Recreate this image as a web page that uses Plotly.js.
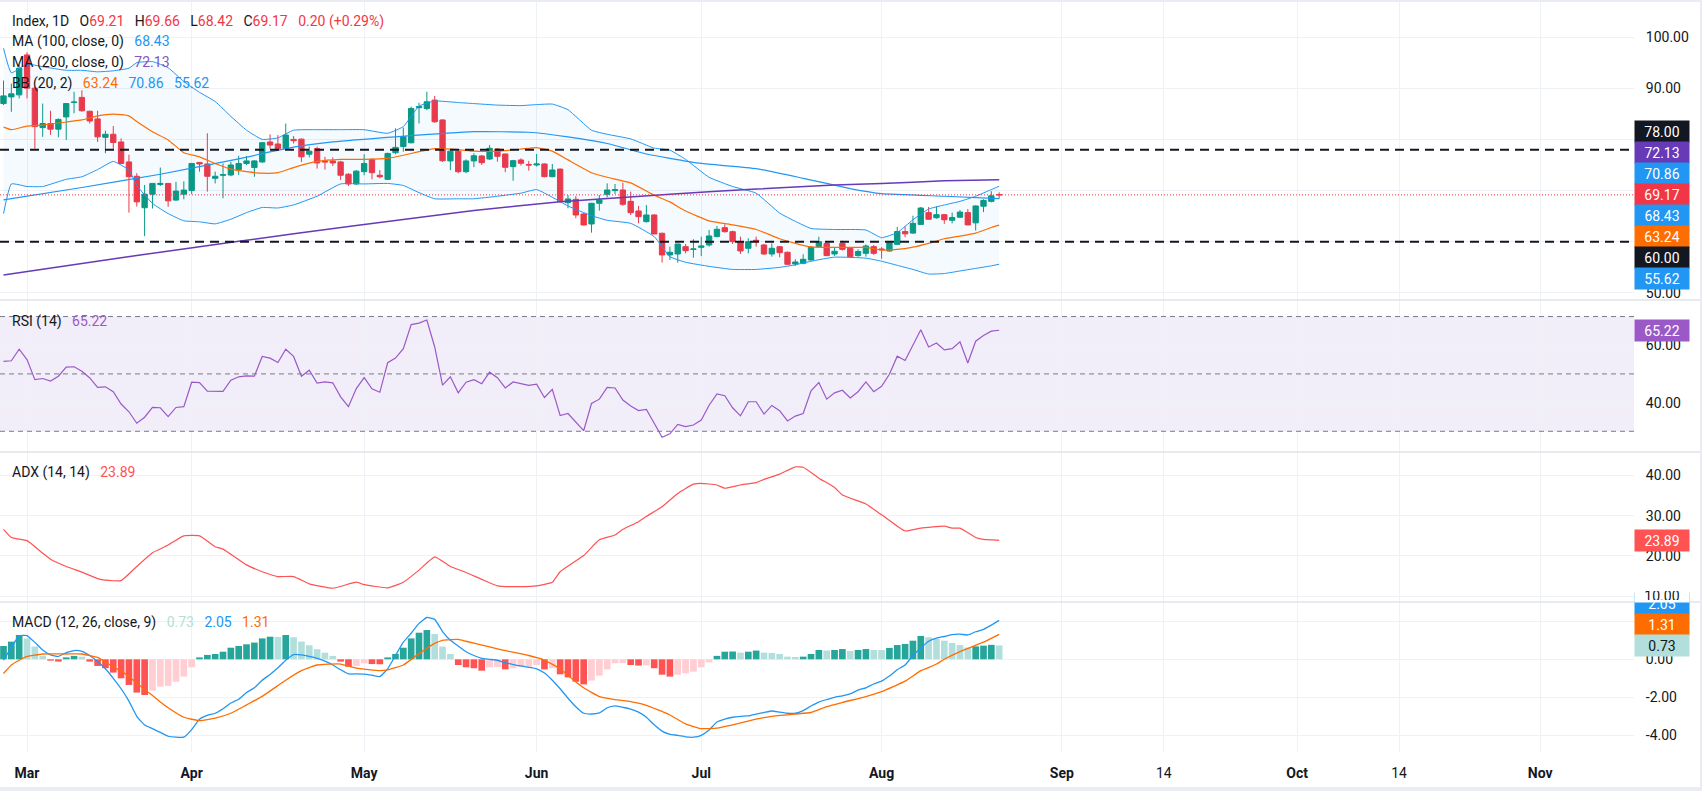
<!DOCTYPE html>
<html>
<head>
<meta charset="utf-8">
<script src="https://cdn.plot.ly/plotly-3.0.1.min.js"></script>
<style>
  html, body { margin: 0; padding: 0; background: #ffffff; }
  #chart { width: 1702px; height: 791px; }
</style>
</head>
<body>
<div id="chart"></div>
<script>
// daily bars (bar 0 = Feb 26, last bar = Aug 22)
var open = [87.0,88.3,88.7,96.5,90.0,82.3,83.1,82.0,84.4,87.2,
  88.2,85.5,84.0,80.4,81.0,79.5,75.6,72.8,66.65,69.3,
  71.2,71.4,68.15,69.3,70.0,75.5,75.2,72.4,73.0,73.05,
  74.1,75.3,74.5,75.6,79.5,79.1,78.2,80.0,80.05,77.1,
  78.2,75.8,75.8,75.6,73.2,71.3,73.7,76.1,73.0,72.2,
  77.4,78.6,79.35,86.2,86.05,87.68,83.8,75.8,77.7,73.7,
  75.8,76.76,76.17,78.13,77.15,74.68,75.98,75.1,75.0,75.2,
  72.72,74.2,67.65,68.3,65.43,63.48,67.52,69.27,70.0,70.12,
  67.9,66.02,63.94,65.24,61.66,57.43,57.62,59.05,58.5,58.92,
  59.38,61.01,62.76,61.98,60.03,58.73,60.3,59.38,57.62,59.05,
  57.95,55.67,55.8,56.45,59.05,59.7,57.62,59.7,58.73,57.3,
  57.75,59.05,58.6,58.2,59.5,62.0,61.7,63.4,65.7,64.7,
  65.3,64.2,64.8,65.7,63.7,66.95,67.9,69.21];
var high = [91.5,90.9,94.5,97.0,90.3,87.0,85.6,84.1,87.1,89.3,
  89.6,85.6,85.6,81.7,82.6,80.2,77.0,73.4,71.1,71.4,
  74.5,71.5,71.7,71.8,75.4,75.6,81.2,73.7,75.3,75.6,
  76.8,76.75,75.96,79.5,81.0,80.85,83.1,80.65,80.2,78.6,
  78.6,76.6,76.5,75.8,73.4,74.0,77.1,76.3,74.0,77.4,
  82.15,82.3,86.4,87.16,89.3,88.5,83.9,77.9,77.9,76.1,
  77.3,76.96,78.91,78.3,77.2,76.0,76.3,75.8,77.15,75.3,
  75.2,74.3,69.14,68.95,65.6,67.6,69.14,71.42,71.29,71.55,
  69.79,67.0,67.19,65.4,61.79,59.05,59.6,59.57,60.49,61.01,
  62.31,63.09,63.41,62.18,61.01,60.68,61.01,59.57,59.7,59.18,
  58.1,56.58,57.56,59.18,61.01,60.03,58.92,60.22,58.86,58.53,
  59.5,59.38,58.95,59.9,62.9,63.0,65.1,66.8,66.8,66.9,
  65.4,65.7,66.2,66.4,67.1,68.3,69.9,69.66];
var low = [86.7,85.4,88.0,88.0,78.2,80.5,80.9,80.4,79.9,85.1,
  85.4,83.1,79.5,77.3,78.2,75.2,65.7,66.9,61.1,66.5,
  70.9,66.85,68.0,68.3,69.3,73.7,69.8,71.4,68.5,72.8,
  73.05,75.0,72.7,75.4,78.2,78.1,78.0,79.2,75.6,76.5,
  74.3,74.1,74.8,72.1,70.9,71.1,73.0,72.2,72.4,72.06,
  77.1,77.6,79.2,83.1,85.7,83.25,75.6,74.0,73.4,73.4,
  74.6,75.0,75.98,75.65,73.6,71.94,74.9,73.9,74.7,72.6,
  72.6,67.7,66.54,64.59,63.2,61.79,66.08,68.69,69.34,67.0,
  65.24,63.61,63.74,61.5,55.93,56.45,55.93,57.75,56.9,57.23,
  59.05,60.88,61.79,59.57,57.62,57.75,59.05,57.43,57.1,56.97,
  55.54,55.28,55.6,56.32,58.92,57.23,57.23,58.27,56.9,57.1,
  57.1,57.43,56.7,58.1,59.4,60.9,61.55,63.3,64.3,64.5,
  63.5,63.6,64.7,63.25,62.2,65.8,67.7,68.42];
var close = [88.5,88.9,93.9,90.0,82.5,83.1,82.0,83.9,87.0,87.3,
  85.6,83.6,80.5,81.0,79.4,75.3,72.7,67.8,69.3,71.4,
  71.4,68.0,69.9,70.1,75.3,75.2,72.8,72.8,73.1,75.0,
  75.3,75.8,75.8,79.35,78.9,78.2,80.85,79.75,76.6,77.7,
  75.4,75.6,75.4,73.0,71.3,73.8,75.3,73.5,72.7,77.26,
  78.44,80.5,86.05,86.4,87.35,83.45,75.83,77.7,73.7,75.8,
  76.8,75.46,78.26,76.7,74.55,75.85,75.33,75.0,75.2,72.72,
  74.03,67.84,68.36,65.24,63.28,67.52,68.17,70.12,70.2,67.32,
  65.69,64.91,65.24,61.53,57.43,57.95,59.57,58.27,58.6,59.18,
  61.14,62.44,61.98,60.03,58.21,60.03,60.1,57.62,58.73,57.88,
  55.6,56.06,56.58,58.92,60.03,57.3,58.14,58.53,57.1,58.1,
  59.18,57.75,58.45,59.8,62.0,61.55,63.6,66.6,64.4,65.3,
  64.3,64.75,65.8,63.3,67.0,68.06,68.97,69.17];

// Bollinger bands (20, 2), read at these bars
var bbBars = [0,1,3,5,8,10,12,14,16,17,19,21,23,25,27,29,31,33,35,37,
  40,43,46,49,51,53,55,58,60,63,66,68,70,72,75,77,80,83,85,87,
  90,93,96,99,101,103,106,110,112,114,116,118,120,122,124,126,127];
var bbUpper = [97.8,93.0,94.7,94.2,93.5,93.5,93.2,93.4,93.9,95.0,
  95.2,94.0,91.3,89.2,87.4,84.5,81.8,80.0,80.3,81.8,
  81.9,81.9,81.9,81.2,82.5,86.5,87.5,87.2,87.0,86.7,
  86.6,86.8,86.9,85.8,81.8,81.0,80.1,78.3,77.9,76.1,
  72.6,70.8,69.5,65.6,64.0,62.6,62.4,62.3,60.8,61.8,
  64.3,66.4,67.2,67.9,68.9,70.2,70.86];
var bbBasis = [82.4,81.9,82.6,82.8,83.4,83.8,84.6,84.95,84.6,83.5,
  81.5,79.9,77.4,76.6,75.3,74.2,73.7,73.4,73.5,74.5,
  75.7,76.1,76.1,76.3,76.9,77.6,78.2,78.0,77.7,77.7,
  78.1,78.4,77.7,76.0,73.5,72.6,71.5,69.1,67.8,66.0,
  64.1,63.3,62.4,60.6,59.7,59.0,58.9,58.9,58.4,58.5,
  58.95,59.7,60.6,61.1,61.7,62.8,63.24];
var bbLower = [65.5,71.3,70.8,70.8,72.2,72.7,74.1,75.7,74.0,71.0,
  67.5,65.5,64.1,63.9,63.5,64.4,65.7,66.7,66.6,67.2,
  68.9,71.3,71.3,71.4,71.0,69.6,68.4,68.4,68.4,68.9,
  69.5,70.2,68.7,67.0,65.1,64.2,63.6,61.0,57.1,56.0,
  55.2,54.6,54.6,55.0,55.5,56.2,57.0,56.8,56.2,55.4,
  54.6,53.7,53.8,54.3,54.8,55.3,55.62];

// moving averages
var ma100Bars = [0,10,20,30,36,42,50,60,67,72,77,82,85,89,96,102,108,112,120,127];
var ma100 = [68.2,70.6,73.2,76.2,78.2,79.5,80.5,81.5,81.4,80.5,79.2,77.15,76.3,75.3,74.3,72.4,70.4,69.4,68.9,68.43];
var ma200Bars = [0,15,30,45,60,71,85,96,106,112,120,127];
var ma200 = [53.5,56.9,60.1,63.2,66.1,67.8,69.3,70.3,71.1,71.4,71.9,72.13];

// RSI (14), one value per bar
var rsi = [54.4,54.6,58.6,55.0,48.0,48.4,47.5,49.2,52.4,52.5,
  50.9,48.6,45.3,45.5,43.8,39.5,36.8,32.8,34.9,38.3,
  38.2,35.1,38.3,38.6,47.1,47.0,44.0,44.0,43.9,47.8,
  49.0,49.3,49.2,56.1,55.5,54.0,58.6,56.1,49.2,51.3,
  46.8,47.2,46.9,42.0,38.6,44.9,48.7,44.8,43.6,53.9,
  55.5,58.8,67.2,67.7,68.8,59.4,46.1,49.0,43.4,47.1,
  48.0,46.6,50.6,48.7,45.1,47.2,46.6,46.0,46.4,41.8,
  44.6,35.5,36.2,33.0,30.2,39.7,41.2,45.3,45.1,40.9,
  38.8,37.2,37.6,32.8,27.9,29.1,32.4,31.6,32.2,33.9,
  39.1,43.0,42.4,38.2,35.4,40.3,40.3,36.0,39.0,37.2,
  33.6,35.3,36.2,44.1,47.0,41.2,43.4,44.3,41.6,43.8,
  47.2,43.8,45.7,49.9,56.2,54.7,59.9,65.4,59.4,60.8,
  58.4,58.8,61.2,53.8,61.4,63.4,64.9,65.22];

// ADX (14, 14)
var adxBars = [0,1,3,5,6,8,10,12,13,15,17,19,21,23,25,27,28,31,33,35,
  37,39,42,45,46,49,51,53,55,57,59,61,63,66,68,70,71,74,76,78,
  79,81,82,84,86,88,89,91,92,94,96,97,99,101,102,104,106,107,110,112,
  114,115,117,120,121,122,124,125,127];
var adx = [26.6,24.6,23.8,20.7,19.2,17.4,16.0,14.4,14.0,13.9,17.4,20.8,22.7,25.0,25.0,22.3,21.7,17.8,16.1,14.9,
  14.9,13.1,12.0,13.5,12.9,12.1,13.5,16.5,19.8,17.4,15.9,14.2,12.6,12.4,12.6,13.5,16.1,20.1,24.0,25.2,
  26.6,28.5,29.8,32.2,35.5,37.8,38.0,37.6,36.8,37.6,38.2,39.0,40.3,42.1,42.0,39.3,37.0,35.1,32.9,30.2,
  27.4,26.2,26.9,27.4,26.9,26.9,24.6,24.1,23.89];

// MACD (12, 26, close, 9)
var macdHist = [0.70,0.93,1.28,1.10,0.67,0.18,-0.07,-0.12,0.10,0.18,
  0.14,-0.12,-0.35,-0.47,-0.70,-1.00,-1.35,-1.75,-1.88,-1.65,
  -1.44,-1.40,-1.18,-0.91,-0.42,0.10,0.23,0.28,0.40,0.61,
  0.70,0.79,0.88,1.10,1.19,1.18,1.28,1.16,0.93,0.74,
  0.53,0.35,0.18,-0.12,-0.39,-0.35,-0.21,-0.25,-0.26,0.10,
  0.28,0.61,1.10,1.40,1.54,1.33,0.67,0.28,-0.30,-0.42,
  -0.47,-0.60,-0.42,-0.41,-0.53,-0.47,-0.42,-0.39,-0.30,-0.53,
  -0.47,-0.79,-0.95,-1.18,-1.32,-1.12,-0.86,-0.53,-0.21,-0.20,
  -0.30,-0.33,-0.32,-0.47,-0.81,-0.91,-0.81,-0.74,-0.65,-0.42,
  -0.16,0.18,0.40,0.41,0.35,0.40,0.46,0.35,0.33,0.28,
  0.14,0.12,0.14,0.28,0.49,0.46,0.49,0.54,0.44,0.49,
  0.54,0.49,0.49,0.60,0.75,0.81,0.98,1.23,1.16,1.08,
  0.98,0.86,0.75,0.62,0.68,0.72,0.76,0.73];
var macdLine = [-0.05,0.63,1.23,1.25,0.89,0.49,0.23,0.15,0.35,0.46,
  0.42,0.2,-0.12,-0.5,-1.0,-1.55,-2.2,-3.0,-3.46,-3.65,
  -3.85,-4.05,-4.1,-4.1,-3.7,-3.15,-2.95,-2.84,-2.6,-2.3,
  -2.1,-1.75,-1.5,-1.1,-0.8,-0.45,-0.05,0.25,0.23,0.15,
  0.05,-0.1,-0.3,-0.55,-0.77,-0.77,-0.78,-0.84,-0.91,-0.5,
  0.2,0.9,1.37,1.89,2.2,2.1,1.46,1.0,0.7,0.4,
  0.2,0.05,0.0,-0.05,-0.18,-0.28,-0.35,-0.42,-0.5,-0.72,
  -1.1,-1.55,-2.05,-2.5,-2.84,-2.88,-2.82,-2.55,-2.45,-2.53,
  -2.62,-2.78,-3.05,-3.45,-3.78,-3.95,-4.0,-4.08,-4.1,-4.0,
  -3.72,-3.3,-3.15,-3.05,-3.0,-2.98,-2.88,-2.8,-2.72,-2.78,
  -2.84,-2.84,-2.7,-2.46,-2.25,-2.12,-2.0,-1.92,-1.82,-1.62,
  -1.5,-1.3,-1.15,-0.88,-0.55,-0.3,0.2,0.6,0.95,1.12,
  1.2,1.3,1.32,1.28,1.45,1.58,1.8,2.05];
var signalBars = [0,1,2,3,5,8,10,11,12,13,14,15,16,17,18,19,20,21,23,25,
  27,29,31,33,36,38,40,43,45,48,49,51,53,55,56,58,59,62,64,67,
  69,71,72,74,76,78,80,82,85,87,89,91,93,96,98,101,103,105,107,110,
  112,115,117,118,119,120,122,125,127];
var signalLine = [-0.75,-0.3,-0.05,0.15,0.28,0.28,0.28,0.2,0.1,-0.15,-0.4,-0.62,-0.9,-1.25,-1.6,-1.9,-2.25,-2.55,-3.05,-3.23,
  -3.1,-2.84,-2.4,-1.95,-1.1,-0.6,-0.3,-0.25,-0.47,-0.6,-0.56,-0.3,0.3,0.84,1.0,1.05,0.95,0.65,0.46,0.2,
  -0.04,-0.5,-0.85,-1.5,-1.96,-2.12,-2.23,-2.42,-2.93,-3.4,-3.65,-3.62,-3.45,-3.15,-3.0,-2.88,-2.8,-2.49,-2.27,-1.96,
  -1.7,-1.15,-0.6,-0.44,-0.25,0.0,0.4,0.9,1.31];

// horizontal levels and time axis labels
var levels = [78, 60];
var tickBars = [3, 24, 46, 68, 89, 112, 135, 148, 165, 178, 196];
var tickLabels = ['Mar', 'Apr', 'May', 'Jun', 'Jul', 'Aug', 'Sep', '14', 'Oct', '14', 'Nov'];

// ---------------------------------------------------------------
var FONT = 'Roboto, "Trebuchet MS", Arial, sans-serif';
var TEXT = '#131722', GRID = '#eef1f6', SEP = '#e0e3eb';
var UP = '#089981', DOWN = '#F23645', BLUE = '#2196F3', ORANGE = '#FF6D00';
var PURPLE = '#673AB7', RSI_C = '#9B59C8', ADX_C = '#FF5252';

var PLOT_W = 1634, PLOT_H = 752;
var BAR_PX = 7.84, FIRST_BAR_PX = 3.5, LABEL_H = 21;

var bars = close.map(function (_, i) { return i; });

var panels = {
  y:  { top: 0,   bottom: 300, range: [48.63, 107.23] },
  y2: { top: 300, bottom: 452, range: [22.78, 75.77] },
  y3: { top: 452, bottom: 602, range: [8.59, 45.78] },
  y4: { top: 602, bottom: 752, range: [-4.879, 3.016] }
};
function paperY(px) { return 1 - px / PLOT_H; }
function paperX(px) { return px / PLOT_W; }
function valuePx(key, v) {
  var p = panels[key];
  return p.top + (p.range[1] - v) / (p.range[1] - p.range[0]) * (p.bottom - p.top);
}

function line(x, y, yaxis, color, width, extra) {
  var t = { type: 'scatter', mode: 'lines', x: x, y: y, xaxis: 'x', yaxis: yaxis,
    line: { color: color, width: width, shape: 'spline', smoothing: 0.4 }, hoverinfo: 'skip' };
  for (var k in extra) t[k] = extra[k];
  return t;
}

// histogram colours the way the indicator paints them
var histColors = macdHist.map(function (h, i) {
  var prev = i > 0 ? macdHist[i - 1] : h - 1;
  if (h >= 0) return prev < h ? '#26A69A' : '#B2DFDB';
  return prev < h ? '#FFCDD2' : '#FF5252';
});

var data = [
  line(bbBars, bbLower, 'y', BLUE, 1),
  line(bbBars, bbUpper, 'y', BLUE, 1, { fill: 'tonexty', fillcolor: 'rgba(33,150,243,0.05)' }),
  line(bbBars, bbBasis, 'y', ORANGE, 1.2),
  line(ma100Bars, ma100, 'y', BLUE, 1.2),
  line(ma200Bars, ma200, 'y', PURPLE, 1.5),
  {
    type: 'candlestick', x: bars, open: open, high: high, low: low, close: close,
    xaxis: 'x', yaxis: 'y', whiskerwidth: 0, hoverinfo: 'skip',
    increasing: { line: { color: UP, width: 1 }, fillcolor: UP },
    decreasing: { line: { color: DOWN, width: 1 }, fillcolor: DOWN }
  },
  { type: 'scatter', mode: 'lines', x: bars, y: rsi, xaxis: 'x', yaxis: 'y2',
    line: { color: RSI_C, width: 1.2 }, hoverinfo: 'skip' },
  line(adxBars, adx, 'y3', ADX_C, 1.2),
  { type: 'bar', x: bars, y: macdHist, xaxis: 'x', yaxis: 'y4',
    marker: { color: histColors, line: { width: 0 } }, hoverinfo: 'skip' },
  line(bars, macdLine, 'y4', BLUE, 1.3),
  line(signalBars, signalLine, 'y4', ORANGE, 1.3)
];

// tick labels that sit under a price label box are left blank (the grid line stays)
function yAxis(key, tickvals, hidden) {
  var p = panels[key];
  return {
    domain: [paperY(p.bottom), paperY(p.top)], range: p.range, side: 'right', anchor: 'x',
    tickvals: tickvals,
    ticktext: tickvals.map(function (v) { return hidden.indexOf(v) >= 0 ? '' : v.toFixed(2); }),
    showgrid: true, gridcolor: GRID, gridwidth: 1,
    zeroline: false, showline: false, ticks: 'outside', ticklen: 8, tickcolor: 'rgba(0,0,0,0)',
    tickfont: { size: 14, color: TEXT, family: FONT }, fixedrange: true
  };
}

var shapes = [];
// RSI band and its three levels
shapes.push({ type: 'rect', xref: 'paper', yref: 'y2', x0: 0, x1: 1, y0: 30, y1: 70,
  fillcolor: 'rgba(126,87,194,0.1)', line: { width: 0 }, layer: 'below' });
[70, 50, 30].forEach(function (v) {
  shapes.push({ type: 'line', xref: 'paper', yref: 'y2', x0: 0, x1: 1, y0: v, y1: v,
    line: { color: '#787B86', width: 1, dash: '5px,4px' } });
});
levels.forEach(function (v) {
  shapes.push({ type: 'line', xref: 'paper', yref: 'y', x0: 0, x1: 1, y0: v, y1: v,
    line: { color: TEXT, width: 2, dash: '9px,6px' } });
});
var last = close[close.length - 1];
shapes.push({ type: 'line', xref: 'paper', yref: 'y', x0: 0, x1: 1, y0: last, y1: last,
  line: { color: DOWN, width: 1, dash: '1px,2px' } });
// pane separators and frame
[300, 452, 602].forEach(function (px) {
  shapes.push({ type: 'line', xref: 'paper', yref: 'paper', x0: 0, x1: 1702 / PLOT_W,
    y0: paperY(px), y1: paperY(px), line: { color: SEP, width: 1.5 }, layer: 'above' });
});
function frameRect(x0, y0, x1, y1) {
  shapes.push({ type: 'rect', xref: 'paper', yref: 'paper', x0: paperX(x0), x1: paperX(x1),
    y0: paperY(y1), y1: paperY(y0), fillcolor: '#e9ecf2', line: { width: 0 }, layer: 'above' });
}
frameRect(0, 0, 1702, 2);
frameRect(0, 787, 1702, 791);
frameRect(1700, 0, 1702, 791);

// legends
function c(color, s) { return '<span style="color:' + color + '">' + s + '</span>'; }
var SP = '\u00a0\u00a0\u00a0';
var n = close.length - 1;
var chg = close[n] - close[n - 1];
var chgPct = chg / close[n - 1] * 100;
var barColor = close[n] >= open[n] ? UP : DOWN;   // legend follows the last candle's colour
var f2 = function (v) { return v.toFixed(2); };
var legendRows = [
  [21.7, 'Index, 1D' + SP + 'O' + c(barColor, f2(open[n])) + SP + 'H' + c(barColor, f2(high[n])) + SP +
    'L' + c(barColor, f2(low[n])) + SP + 'C' + c(barColor, f2(close[n])) + SP +
    c(barColor, f2(chg) + ' (' + (chg >= 0 ? '+' : '') + f2(chgPct) + '%)')],
  [41.7, 'MA (100, close, 0)' + SP + c(BLUE, f2(ma100[ma100.length - 1]))],
  [62.3, 'MA (200, close, 0)' + SP + c('#7E57C2', f2(ma200[ma200.length - 1]))],
  [83.3, 'BB (20, 2)' + SP + c(ORANGE, f2(bbBasis[bbBasis.length - 1])) + SP +
    c(BLUE, f2(bbUpper[bbUpper.length - 1])) + SP + c(BLUE, f2(bbLower[bbLower.length - 1]))],
  [321.7, 'RSI (14)' + SP + c(RSI_C, f2(rsi[n]))],
  [472.3, 'ADX (14, 14)' + SP + c(ADX_C, f2(adx[adx.length - 1]))],
  [622.7, 'MACD (12, 26, close, 9)' + SP + c('#B2DFDB', f2(macdHist[n])) + SP +
    c(BLUE, f2(macdLine[n])) + SP + c(ORANGE, f2(signalLine[signalLine.length - 1]))]
];
var annotations = legendRows.map(function (r) {
  return { xref: 'paper', yref: 'paper', x: paperX(10), y: paperY(r[0]), xanchor: 'left', yanchor: 'middle',
    showarrow: false, text: r[1], font: { family: FONT, size: 14, color: TEXT } };
});

// price-scale labels, stacked around the anchor label like the platform does
function boxAnn(v, px, bg, fg) {
  return { xref: 'paper', yref: 'paper', x: 1, y: paperY(px), xanchor: 'left', yanchor: 'middle',
    showarrow: false, text: f2(v), bgcolor: bg, width: 50, height: 17, borderpad: 2,
    align: 'center', valign: 'middle', font: { family: FONT, size: 14, color: fg } };
}
function stackLabels(key, values, colors, textColors, anchor) {
  var a = valuePx(key, values[anchor]);
  values.forEach(function (v, i) {
    annotations.push(boxAnn(v, a + (i - anchor) * LABEL_H, colors[i], textColors[i]));
  });
}
var W = '#ffffff';
stackLabels('y',
  [levels[0], ma200[ma200.length - 1], bbUpper[bbUpper.length - 1], close[n], ma100[ma100.length - 1],
   bbBasis[bbBasis.length - 1], levels[1], bbLower[bbLower.length - 1]],
  [TEXT, PURPLE, BLUE, DOWN, BLUE, ORANGE, TEXT, BLUE],
  [W, W, W, W, W, W, W, W], 3);
stackLabels('y2', [rsi[n]], [RSI_C], [W], 0);
stackLabels('y3', [adx[adx.length - 1]], [ADX_C], [W], 0);
stackLabels('y4', [macdLine[n], signalLine[signalLine.length - 1], macdHist[n]],
  [BLUE, ORANGE, '#B2DFDB'], [W, W, TEXT], 2);
// the MACD pane clips its top label; the ADX scale's last tick is drawn above it
annotations.push({ xref: 'paper', yref: 'paper', x: 1, y: paperY(595.5), xanchor: 'left', yanchor: 'middle',
  showarrow: false, text: '10.00', bgcolor: W, width: 50, height: 9, borderpad: 2,
  align: 'center', valign: 'middle', font: { family: FONT, size: 14, color: TEXT } });

var layout = {
  width: 1702, height: 791,
  margin: { l: 0, r: 1702 - PLOT_W, t: 0, b: 791 - PLOT_H, pad: 0 },
  paper_bgcolor: '#ffffff', plot_bgcolor: '#ffffff',
  showlegend: false, hovermode: false, dragmode: false,
  bargap: 0.15, boxgap: 0.15, boxgroupgap: 0.2,
  font: { family: FONT, size: 14, color: TEXT },
  xaxis: {
    range: [(0 - FIRST_BAR_PX) / BAR_PX, (PLOT_W - FIRST_BAR_PX) / BAR_PX],
    anchor: 'y4', tickvals: tickBars,
    ticktext: tickLabels.map(function (t) { return /^\d/.test(t) ? t : '<b>' + t + '</b>'; }),
    showgrid: true, gridcolor: GRID, zeroline: false, showline: false,
    ticks: 'outside', ticklen: 8, tickcolor: 'rgba(0,0,0,0)',
    tickfont: { size: 14, color: TEXT, family: FONT },
    rangeslider: { visible: false }, fixedrange: true
  },
  yaxis: yAxis('y', [50, 60, 70, 80, 90, 100], [60, 70, 80]),
  yaxis2: yAxis('y2', [40, 60], []),
  yaxis3: yAxis('y3', [10, 20, 30, 40], [10]),
  yaxis4: yAxis('y4', [-4, -2, 0, 2], [2]),
  shapes: shapes,
  annotations: annotations
};

Plotly.newPlot('chart', data, layout, { displayModeBar: false, staticPlot: true });
</script>
</body>
</html>
